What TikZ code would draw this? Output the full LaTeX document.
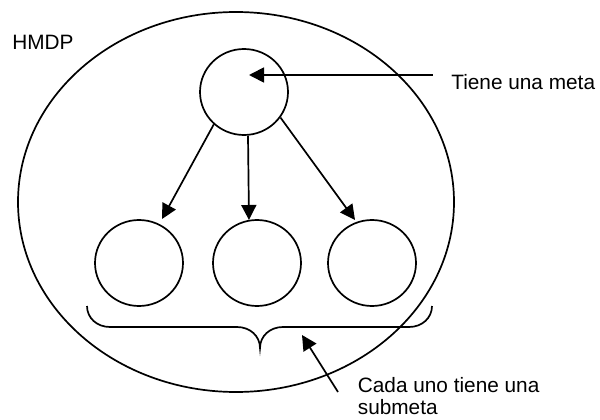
\documentclass[tikz,border=0pt]{standalone}
\usepackage{fontspec}
\setmainfont{Liberation Sans}
\usetikzlibrary{arrows.meta,shapes.geometric}
\begin{document}
\begin{tikzpicture}[x=1pt,y=-1pt,
  line width=1.7pt,
  goal/.style={draw, ellipse, minimum width=88pt, minimum height=86pt, inner sep=0pt},
  outer/.style={draw, ellipse, minimum width=436pt, minimum height=380pt, inner sep=0pt},
  lbl/.style={inner sep=0pt, font=\fontsize{20.8}{22}\selectfont},
  arr/.style={-{Triangle[length=15pt,width=15pt]}}]
\useasboundingbox (0,0) rectangle (600,420);
\node[outer] (hmdpset) at (236,202) {};
\node[goal] (top) at (244,92) {};
\node[goal] (c1) at (139,263) {};
\node[goal] (c2) at (257,263) {};
\node[goal] (c3) at (372,263) {};
\node[lbl, anchor=base west] (hmdp) at (11.5,50) {HMDP};
\node[lbl, anchor=base west] (meta) at (450.5,89.3) {Tiene una meta};
\node[lbl, anchor=north west, align=left] (cada) at (357,377) {Cada uno tiene una\\submeta};
\coordinate (metatail) at (432.7,75);
\coordinate (metahead) at (249,75);
\coordinate (t1) at (162,219);
\coordinate (t2) at (249,220);
\coordinate (t3) at (355,220);
\coordinate (subtail) at (338,392);
\coordinate (subhead) at (302,335);
\draw[arr] (metatail) -- (metahead);
\draw[arr] (top.227) -- (t1);
\draw[arr] ([xshift=4pt]top.south) -- (t2);
\draw[arr] (top.-35) -- (t3);
\draw[arr] (subtail) -- (subhead);
\draw (87,306) .. controls (87,318) and (97,327) .. (110,327) -- (237,327)
  .. controls (250,327) and (260,336) .. (260,348)
  .. controls (260,336) and (270,327) .. (283,327) -- (409,327)
  .. controls (422,327) and (432,318) .. (432,306);
\end{tikzpicture}
\end{document}
